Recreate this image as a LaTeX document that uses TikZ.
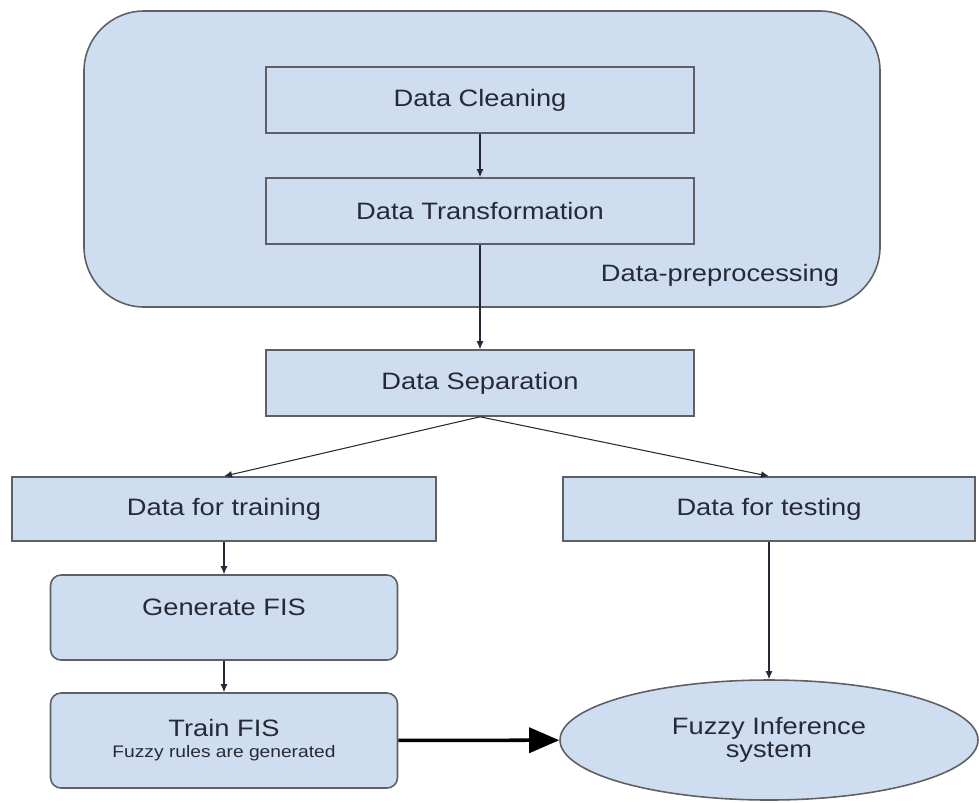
\documentclass[tikz,border=0pt]{standalone}
\usepackage{fontspec}
\setmainfont[FakeStretch=1.15]{Liberation Sans}
\usepackage{tikz}
\usetikzlibrary{
  positioning,
  arrows.meta,
  shapes.geometric
}
\definecolor{boxblue}{RGB}{206,222,240}
\definecolor{edgegray}{RGB}{95,95,100}
\definecolor{inkdark}{RGB}{38,42,55}
\tikzset{
  >=Latex,
  flowarrow/.style={-{Latex[length=1.6mm,width=1.4mm]},draw=inkdark,line width=0.6pt},
  bigarrow/.style={-{Triangle[length=6mm,width=5mm]},line width=2pt,draw=black},
  stage/.style={rectangle,draw=edgegray,fill=boxblue,line width=0.9pt,align=center,inner sep=2pt,text=inkdark},
  fisbox/.style={stage,rounded corners=6pt},
  prepgroup/.style={rectangle,draw=edgegray,fill=boxblue,line width=0.9pt,rounded corners=1.2cm},
  fisoval/.style={ellipse,draw=edgegray,fill=boxblue,line width=0.9pt,align=center,inner sep=0pt,text=inkdark}
}
\begin{document}
\begin{tikzpicture}[font=\fontsize{13.5}{13}\selectfont]
    \useasboundingbox (0,0) rectangle (19.58,-16.04);
    \node[prepgroup,minimum width=15.92cm,minimum height=5.92cm] (prep) at (9.64,-3.18) {};
    \node[text=inkdark] (preplabel) at (14.4,-5.5) {Data-preprocessing};
    \foreach \y/\name/\id in {-2.0/Data\ Cleaning/clean,-4.22/Data\ Transformation/transf,-7.66/Data\ Separation/sep}
        \node[stage,minimum width=8.56cm,minimum height=1.32cm] (\id) at (9.6,\y) {\name};
    \node[stage,minimum width=8.48cm,minimum height=1.28cm] (train) at (4.48,-10.18) {Data for training};
    \node[stage,minimum width=8.24cm,minimum height=1.28cm] (test) at (15.38,-10.18) {Data for testing};
    \node[fisbox,minimum width=6.94cm,minimum height=1.7cm,text depth=0.4cm] (gen) at (4.48,-12.35) {Generate FIS};
    \node[fisbox,minimum width=6.94cm,minimum height=1.9cm] (trainfis) at (4.48,-14.81)
        {Train FIS\\[-1pt]{\fontsize{9.5}{10}\selectfont Fuzzy rules are generated}};
    \node[fisoval,minimum width=8.36cm,minimum height=2.4cm] (fis) at (15.38,-14.8) {Fuzzy Inference\\system};

    \draw[flowarrow] (clean) -- (transf);
    \draw[flowarrow] (transf) -- (sep);
    \draw[flowarrow] (sep.south) -- (train.north);
    \draw[flowarrow] (sep.south) -- (test.north);
    \draw[flowarrow] (train) -- (gen);
    \draw[flowarrow] (gen) -- (trainfis);
    \draw[flowarrow] (test) -- (fis);
    \draw[bigarrow] (trainfis) -- (fis);
\end{tikzpicture}
\end{document}
